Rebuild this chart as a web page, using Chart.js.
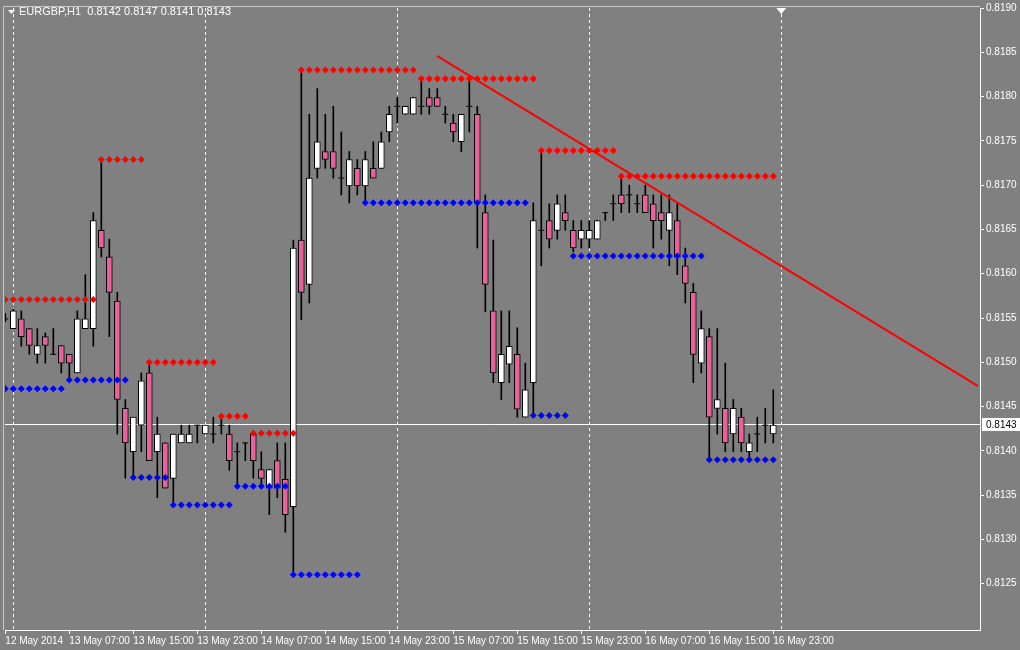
<!DOCTYPE html>
<html><head><meta charset="utf-8">
<script src="https://cdn.jsdelivr.net/npm/chart.js@4/dist/chart.umd.min.js"></script>
<style>html,body{margin:0;padding:0;background:#808080;}#w{width:1020px;height:650px;position:relative;}</style>
</head><body><div id="w"><canvas id="c"></canvas></div>
<script>
const symbolTitle = "EURGBP,H1  0.8142 0.8147 0.8141 0.8143";
const timeLabels = ["12 May 2014","13 May 07:00","13 May 15:00","13 May 23:00","14 May 07:00","14 May 15:00","14 May 23:00","15 May 07:00","15 May 15:00","15 May 23:00","16 May 07:00","16 May 15:00","16 May 23:00"];
const dayBreaks = [1,25,49,73,97];
const openP = [.81549,.81538,.81549,.81538,.81509,.81529,.81509,.81519,.81509,.81488,.81538,.81538,.81649,.81619,.81569,.81448,.81399,.81429,.81488,.81399,.81409,.81369,.81409,.81409,.81429,.81419,.81419,.81429,.81419,.81399,.81409,.81419,.81379,.81358,.81389,.81368,.81337,.81638,.81588,.81719,.81738,.81738,.81708,.81699,.81719,.81699,.81719,.81719,.81760,.81789,.81780,.81780,.81789,.81799,.81799,.81780,.81770,.81749,.81789,.81780,.81669,.81558,.81477,.81498,.81509,.81438,.81477,.81649,.81660,.81649,.81669,.81649,.81639,.81639,.81639,.81669,.81679,.81689,.81689,.81679,.81689,.81679,.81669,.81649,.81660,.81609,.81579,.81499,.81529,.81448,.81448,.81419,.81438,.81399,.81419,.81429,.81419];
const highP = [.81555,.81560,.81558,.81538,.81538,.81533,.81538,.81519,.81509,.81558,.81599,.81669,.81729,.81639,.81579,.81458,.81438,.81488,.81499,.81438,.81409,.81419,.81429,.81429,.81429,.81429,.81438,.81438,.81429,.81409,.81409,.81419,.81399,.81379,.81409,.81409,.81638,.81830,.81780,.81809,.81780,.81789,.81760,.81738,.81729,.81738,.81749,.81760,.81789,.81799,.81789,.81799,.81819,.81809,.81809,.81789,.81780,.81780,.81819,.81789,.81689,.81638,.81558,.81558,.81539,.81499,.81680,.81740,.81679,.81689,.81689,.81660,.81660,.81660,.81660,.81669,.81689,.81707,.81700,.81689,.81700,.81689,.81689,.81689,.81679,.81629,.81589,.81558,.81538,.81538,.81499,.81458,.81448,.81419,.81438,.81448,.81469];
const lowP = [.81546,.81538,.81518,.81509,.81499,.81499,.81509,.81488,.81482,.81488,.81538,.81518,.81619,.81529,.81419,.81369,.81370,.81399,.81389,.81347,.81358,.81338,.81409,.81409,.81409,.81419,.81409,.81419,.81378,.81358,.81389,.81369,.81358,.81328,.81347,.81308,.81258,.81548,.81567,.81708,.81719,.81708,.81689,.81680,.81689,.81683,.81708,.81719,.81749,.81770,.81780,.81780,.81780,.81780,.81789,.81770,.81749,.81738,.81760,.81629,.81557,.81477,.81458,.81477,.81438,.81438,.81438,.81609,.81629,.81639,.81649,.81625,.81629,.81629,.81639,.81660,.81660,.81669,.81669,.81669,.81669,.81629,.81639,.81609,.81599,.81567,.81477,.81488,.81389,.81419,.81399,.81399,.81399,.81389,.81399,.81409,.81409];
const closeP = [.81549,.81558,.81529,.81519,.81519,.81519,.81509,.81499,.81499,.81549,.81549,.81660,.81629,.81579,.81458,.81409,.81438,.81479,.81389,.81419,.81358,.81419,.81419,.81419,.81429,.81429,.81419,.81429,.81389,.81399,.81409,.81389,.81369,.81379,.81358,.81328,.81629,.81579,.81708,.81749,.81729,.81719,.81708,.81729,.81699,.81729,.81708,.81749,.81780,.81789,.81789,.81799,.81789,.81789,.81789,.81780,.81760,.81780,.81789,.81680,.81588,.81488,.81509,.81518,.81447,.81469,.81660,.81649,.81639,.81679,.81660,.81629,.81649,.81649,.81660,.81669,.81679,.81679,.81689,.81679,.81669,.81660,.81660,.81669,.81619,.81589,.81509,.81538,.81438,.81458,.81409,.81448,.81409,.81409,.81419,.81429,.81429];
const resistFrom = [0,12,18,27,31,37,52,67,77];
const resistTo   = [11,17,26,30,36,51,66,76,96];
const resistLvl  = [.81571,.81729,.81500,.81439,.81420,.81830,.81820,.81739,.81710];
const supportFrom = [0,8,16,21,29,36,45,66,71,88];
const supportTo   = [7,15,20,28,35,44,65,70,87,96];
const supportLvl  = [.81470,.81480,.81370,.81339,.81360,.81260,.81680,.81440,.81620,.81390];
const trendX = [53.96, 121.6];
const trendY = [.81846, .81473];
const lastPrice = 0.8143;
const shiftBar = 97;

const wicks=[], bull=[], bear=[], doji=[];
for(let i=0;i<openP.length;i++){
  wicks.push({x:i,y:[lowP[i],highP[i]]});
  if(Math.abs(openP[i]-closeP[i])<0.00003) doji.push({x:i,y:closeP[i]});
  else if(closeP[i]>openP[i]) bull.push({x:i,y:[openP[i],closeP[i]]});
  else bear.push({x:i,y:[closeP[i],openP[i]]});
}
function dots(f,t,l){const o=[];for(let k=0;k<f.length;k++)for(let i=f[k];i<=t[k];i++)o.push({x:i,y:l[k]});return o;}
const redDots=dots(resistFrom,resistTo,resistLvl), blueDots=dots(supportFrom,supportTo,supportLvl);

const FONT = "'Liberation Sans', Arial, sans-serif";
const deco = {
  id:'deco',
  beforeDatasetsDraw(ch){
    const {ctx,chartArea:a,scales:{x,y}}=ch;
    ctx.save();
    ctx.strokeStyle='#ffffff';ctx.lineWidth=1;ctx.setLineDash([3,3]);
    dayBreaks.forEach(d=>{const px=Math.round(x.getPixelForValue(d))+0.5;ctx.beginPath();ctx.moveTo(px,a.top);ctx.lineTo(px,a.bottom);ctx.stroke();});
    ctx.setLineDash([]);
    const py=Math.round(y.getPixelForValue(lastPrice))+0.5;
    ctx.beginPath();ctx.moveTo(a.left,py);ctx.lineTo(a.right,py);ctx.stroke();
    ctx.restore();
  },
  afterDraw(ch){
    const {ctx,chartArea:a,scales:{x,y}}=ch;
    ctx.save();
    ctx.strokeStyle='#c8c8c8';ctx.lineWidth=1;
    ctx.beginPath();ctx.moveTo(a.left-1.5,a.bottom);ctx.lineTo(a.left-1.5,a.top-1.5);ctx.lineTo(a.right,a.top-1.5);ctx.stroke();
    ctx.fillStyle='#ffffff';ctx.font='11px '+FONT;ctx.textBaseline='middle';
    ctx.beginPath();ctx.moveTo(8,10);ctx.lineTo(15,10);ctx.lineTo(11.5,14);ctx.closePath();ctx.fill();
    ctx.fillText(symbolTitle,19,12);
    const sx=x.getPixelForValue(shiftBar);
    ctx.beginPath();ctx.moveTo(sx-5,a.top);ctx.lineTo(sx+5,a.top);ctx.lineTo(sx,a.top+6);ctx.closePath();ctx.fill();
    const py=Math.round(y.getPixelForValue(lastPrice));
    ctx.fillRect(a.right+2,py-6,40,13);
    ctx.fillStyle='#000000';ctx.textAlign='left';ctx.font='10px '+FONT;
    ctx.fillText(lastPrice.toFixed(4),a.right+6,py+1);
    ctx.restore();
  }
};

new Chart(document.getElementById('c'),{
  type:'bar',
  data:{datasets:[
    {type:'line',data:[{x:trendX[0],y:trendY[0]},{x:trendX[1],y:trendY[1]}],borderColor:'#ff0000',borderWidth:2,pointRadius:0,order:0},
    {type:'line',data:redDots,showLine:false,pointStyle:'rectRot',pointRadius:3.5,backgroundColor:'#ff0000',borderColor:'#ff0000',borderWidth:0,order:1},
    {type:'line',data:blueDots,showLine:false,pointStyle:'rectRot',pointRadius:3.5,backgroundColor:'#0000ff',borderColor:'#0000ff',borderWidth:0,order:1},
    {type:'line',data:doji,showLine:false,pointStyle:'line',pointRadius:3,borderColor:'#000000',borderWidth:1,order:2},
    {data:bull,grouped:false,barThickness:6,backgroundColor:'#ffffff',borderColor:'#000000',borderWidth:1,borderSkipped:false,order:3},
    {data:bear,grouped:false,barThickness:6,backgroundColor:'#ea5f9c',borderColor:'#000000',borderWidth:1,borderSkipped:false,order:3},
    {data:wicks,grouped:false,barThickness:1,backgroundColor:'#000000',borderWidth:0,order:4}
  ]},
  options:{
    responsive:true,maintainAspectRatio:false,animation:false,devicePixelRatio:1,
    layout:{padding:{left:5,top:5,right:0,bottom:0}},
    plugins:{legend:{display:false},tooltip:{enabled:false}},
    scales:{
      x:{type:'linear',offset:false,min:-0.04,max:121.84,
        afterBuildTicks(s){s.ticks=timeLabels.map((t,k)=>({value:k*8}));},
        afterFit(s){s.height=20;},
        ticks:{color:'#ffffff',font:{family:FONT,size:10},align:'start',maxRotation:0,autoSkip:false,padding:1,
          callback:(v)=>timeLabels[Math.round(v/8)]},
        grid:{drawOnChartArea:false,offset:false,color:'#ffffff',tickLength:4},
        border:{color:'#ffffff'}},
      y:{position:'right',min:0.8119775,max:0.8190,
        afterBuildTicks(s){const t=[];for(let k=0;k<=13;k++)t.push({value:+(0.8125+k*0.0005).toFixed(4)});s.ticks=t;},
        afterFit(s){s.width=40;},
        ticks:{color:'#ffffff',font:{family:FONT,size:10},padding:2,callback:(v)=>(+v).toFixed(4)},
        grid:{drawOnChartArea:false,color:'#ffffff',tickLength:4},
        border:{color:'#ffffff'}}
    }
  },
  plugins:[deco]
});
</script></body></html>
